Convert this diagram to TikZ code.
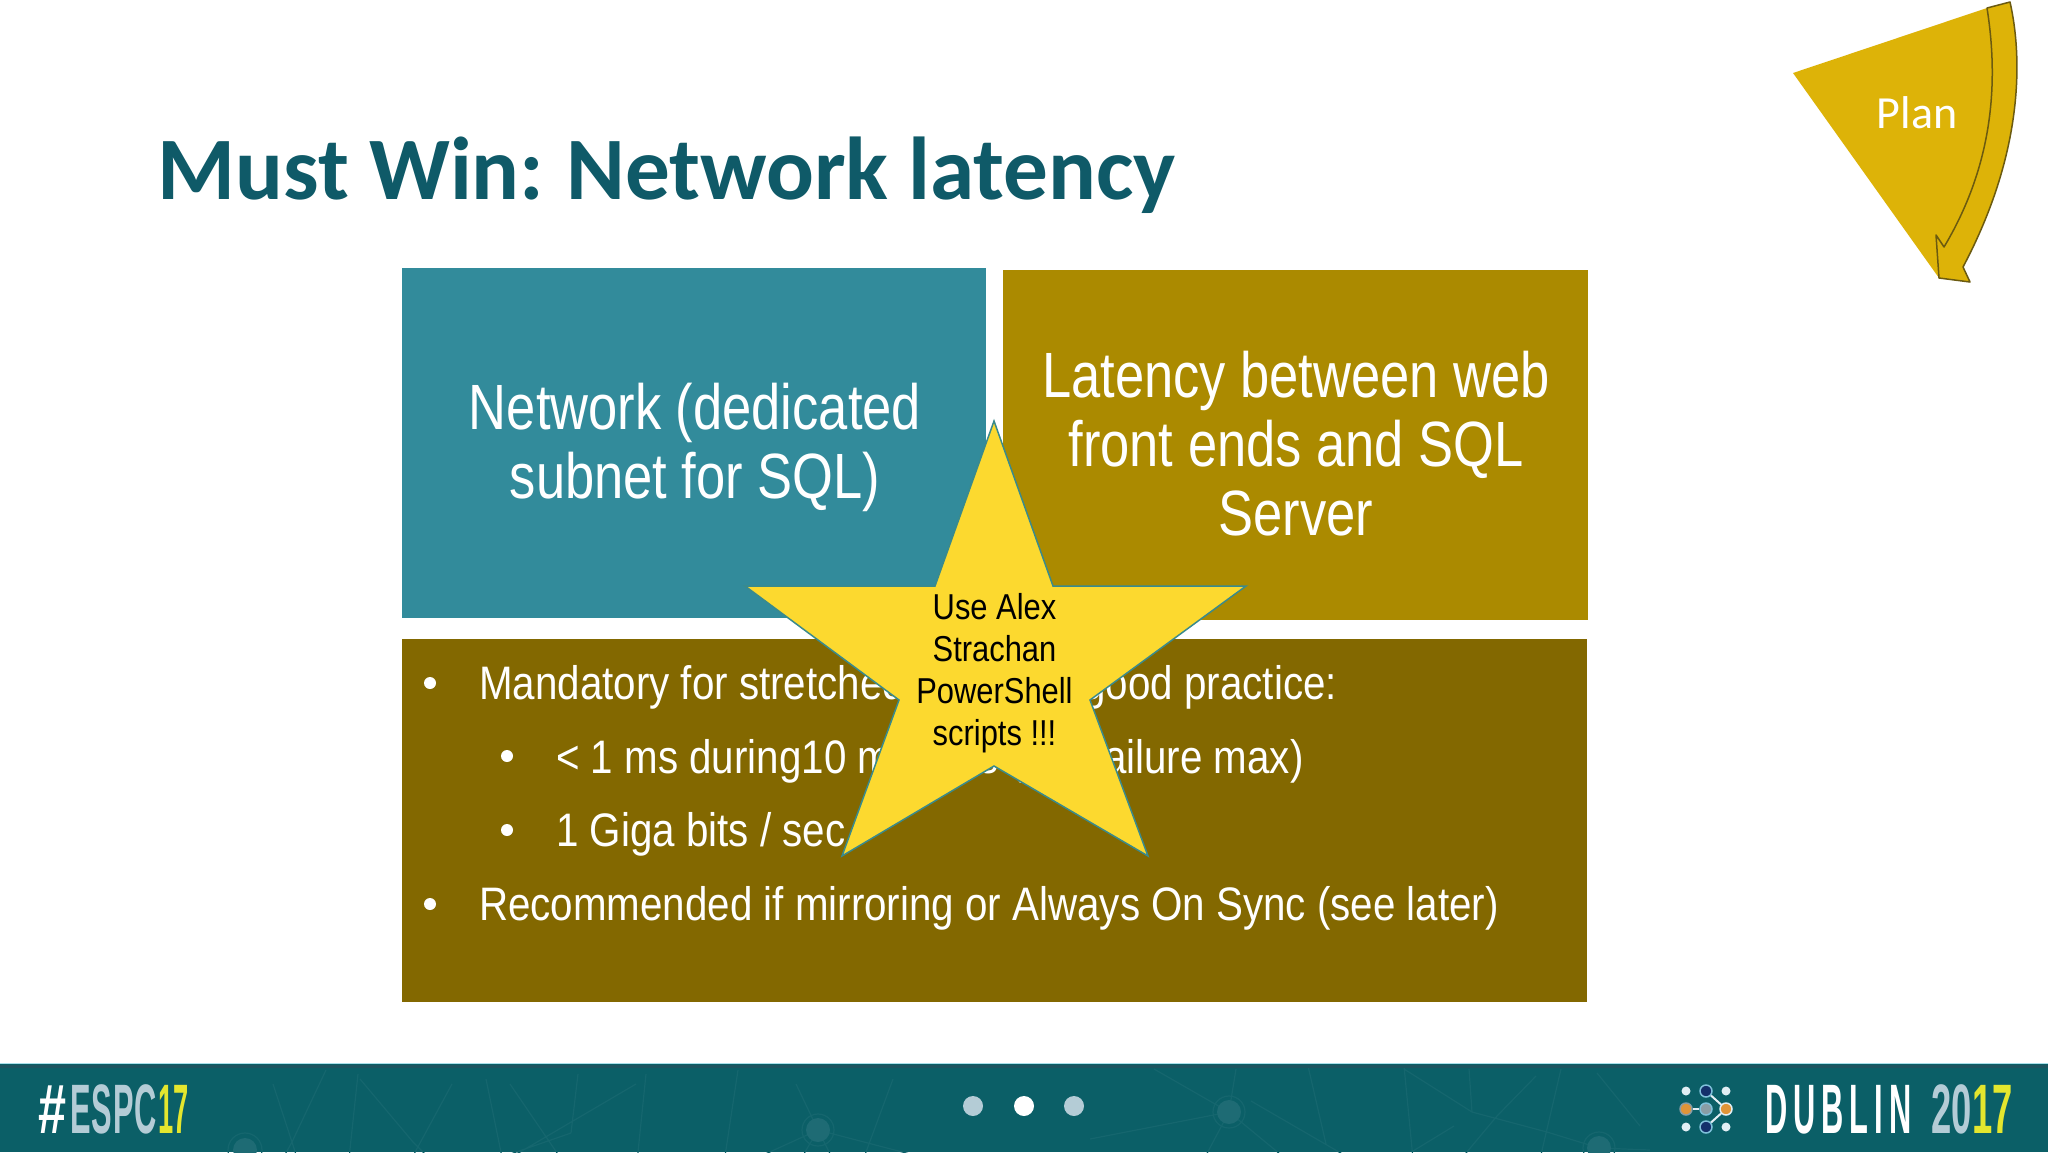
\documentclass[tikz,border=0pt]{standalone}
\usepackage{fontspec}
\setmainfont{Liberation Sans}
\newfontfamily\nar{Liberation Sans}[FakeStretch=0.858]
\newfontfamily\narb{Liberation Sans}[FakeStretch=0.82]
\newfontfamily\calb{Carlito}
\newfontfamily\con{Liberation Sans}[FakeStretch=0.44]
\newfontfamily\cond{Liberation Sans}[FakeStretch=0.39]
\newfontfamily\conh{Liberation Sans}[FakeStretch=0.72]
\newfontfamily\cony{Liberation Sans}[FakeStretch=0.52]
\definecolor{tealbox}{HTML}{328B9B}
\definecolor{goldbox}{HTML}{AB8A00}
\definecolor{brownbox}{HTML}{836800}
\definecolor{titlec}{HTML}{0F5A68}
\definecolor{foot}{HTML}{0B5F67}
\definecolor{footnet}{HTML}{15666E}
\definecolor{footdisc}{HTML}{1E6B74}
\definecolor{footedge}{HTML}{A8E0EA}
\definecolor{footdark}{HTML}{1D5560}
\definecolor{starc}{HTML}{FCD92F}
\definecolor{starline}{HTML}{3A8A8C}
\definecolor{plan}{HTML}{DDB308}
\definecolor{planline}{HTML}{6B5A10}
\definecolor{dotblue}{HTML}{B4CCD6}
\definecolor{lime}{HTML}{E4E62E}
\definecolor{navy}{HTML}{14306B}
\definecolor{ring}{HTML}{7FC0DA}
\definecolor{orng}{HTML}{E09438}
\definecolor{midg}{HTML}{8A9DA5}
\definecolor{lgw}{HTML}{E2EEF4}
\tikzset{
 box/.style={fill=#1,draw=none},
 boxtext/.style={text=white,font=\narb\fontsize{64}{69}\selectfont,align=center,inner sep=0pt},
 bullet/.style={text=white,font=\nar\fontsize{47}{47}\selectfont,anchor=base west,inner sep=0pt},
 bdot/.style={circle,fill=white,minimum size=12pt,inner sep=0pt},
 navdot/.style={circle,minimum size=20pt,inner sep=0pt,fill=dotblue},
 lg/.style={circle,minimum size=9pt,inner sep=0pt,fill=#1},
 lgr/.style={circle,minimum size=12pt,inner sep=0pt,fill=#1,draw=ring,line width=1.5pt},
 lgo/.style={circle,minimum size=12pt,inner sep=0pt,fill=orng,draw=#1,line width=1.5pt},
 lgl/.style={draw=lgw,line width=2pt},
 footer text/.style={anchor=base west,inner sep=0pt,font=\bfseries\fontsize{70}{70}\selectfont},
}
\begin{document}
\begin{tikzpicture}[x=1pt,y=-1pt]
\useasboundingbox (0,0) rectangle (2048,1152);
\fill[white] (0,0) rectangle (2048,1152);
% title
\node[anchor=base west,inner sep=0pt,text=titlec,font=\calb\bfseries\fontsize{89.2}{89}\selectfont] (title) at (157.5,199) {Must Win:\kern-5pt{} Network latency};
% boxes
\fill[box=tealbox] (402,268) rectangle (986,618);
\fill[box=goldbox] (1003,270) rectangle (1588,620);
\fill[box=brownbox] (402,639) rectangle (1587,1002);
\node[boxtext] (net) at (695,447) {Network (dedicated\\subnet for SQL)};
\node[boxtext] (lat) at (1296,444) {Latency between web\\front ends and SQL\\Server};
% bullets
\node[bdot] (b1) at (430,683) {};
\node[bullet] (t1) at (479,699.5) {Mandatory for stretched farm and\kern-3pt{} good practice:};
\node[bdot] (b2) at (507,756) {};
\node[bullet] (t2) at (556,773.5) {< 1 ms during10 minutes (1\% failure max)};
\node[bdot] (b3) at (507,830) {};
\node[bullet] (t3) at (556,846.5) {1 Giga bits / sec};
\node[bdot] (b4) at (430,904) {};
\node[bullet] (t4) at (479,920.5) {Recommended if mirroring or Always On Sync (see later)};
% star
\filldraw[fill=starc,draw=starline,line width=1.5pt,line join=miter]
 (994,421)--(1053,586)--(1246,586)--(1090,700)--(1148,856)--(994,766)--(842,856)--(899,700)--(745,586)--(935,586)--cycle;
\node[text=black,font=\nar\fontsize{36}{42}\selectfont,align=center,inner sep=0pt] (st) at (994.5,673) {Use Alex\\Strachan\\PowerShell\\scripts !!!};
% plan
\fill[plan] (1793,73)--(1987,8) .. controls (2000,90) and (1990,170) .. (1944,247)--(1939,278)--cycle;
\filldraw[fill=plan,draw=planline,line width=1.5pt,line join=round]
 (1987,8)--(2010,2) .. controls (2022,55) and (2025,150) .. (1963,267)
 --(1970,282)--(1939,278)--(1936,235)--(1944,247)
 .. controls (1990,170) and (2000,90) .. cycle;
\node[text=white,font=\calb\fontsize{46}{46}\selectfont,inner sep=0pt] (pl) at (1917,113) {Plan};
% footer
\fill[foot] (0,1064) rectangle (2048,1152);
\begin{scope}
\clip (0,1068) rectangle (2048,1152);
\draw[footnet,line width=1.2pt,line join=round]
 (273,1084)--(292,1142)--(309,1196) (326,1070)--(292,1142)--(273,1176)
 (358,1074)--(345,1196) (360,1079)--(413,1142)--(447,1176)
 (452,1084)--(394,1191) (486,1079)--(503,1162)--(500,1196)
 (510,1084)--(583,1191) (578,1074)--(571,1133) (636,1084)--(503,1162)
 (447,1176)--(571,1133) (646,1074)--(634,1191) (738,1070)--(719,1196)
 (818,1130)--(728,1171) (818,1130)--(956,1166) (818,1130)--(782,1191)
 (818,1130)--(796,1084) (818,1130)--(849,1191) (893,1079)--(859,1171)
 (1229,1112)--(1090,1139) (1229,1112)--(1154,1069) (1229,1112)--(1236,1069)
 (1229,1112)--(1286,1159) (1229,1112)--(1204,1159)
 (1308,1066)--(1326,1144) (1251,1101)--(1351,1159)
 (1404,1066)--(1413,1159) (1404,1069)--(1472,1112)--(1547,1132)--(1599,1148)
 (1469,1069)--(1472,1112) (1497,1116)--(1461,1159) (1536,1076)--(1497,1116)
 (1561,1069)--(1540,1159) (1413,1151)--(1454,1126) (1599,1148)--(1650,1150)
 (1597,1073)--(1640,1126);
\fill[footdisc] (245,1150) circle (12) (448,1179) circle (12) (818,1130) circle (12)
 (1229,1112) circle (12) (1599,1148) circle (12);
\draw[footnet,line width=1.2pt] (245,1150) circle (17) (448,1179) circle (16) (818,1130) circle (16)
 (1229,1112) circle (16) (1599,1148) circle (16);
\end{scope}
\draw[footedge,line width=1.5pt] (0,1063.5)--(2048,1063.5);
\draw[footdark,line width=3pt] (0,1066)--(2048,1066);
\node[footer text] (tag) at (38,1133) {\conh\textcolor{white}{\#}\hspace{4pt}\con\textcolor{dotblue}{E\kern1pt S\kern1pt P\kern1pt C}\hspace{1pt}\cond\textcolor{lime}{17}};
\node[footer text] (dub) at (1765,1133) {\con\textcolor{white}{D\kern6pt U\kern6pt B\kern6pt L\kern6pt I\kern6pt N}\hspace{20pt}\cony\textcolor{dotblue}{20}\textcolor{lime}{17}};
\node[navdot] (d1) at (973,1106) {};
\node[navdot,fill=white] (d2) at (1024,1106) {};
\node[navdot] (d3) at (1074,1106) {};
% logo
\node[lg=lgw] (a1) at (1686,1091) {};
\node[lgr=navy] (a2) at (1706,1091) {};
\node[lg=lgw] (a3) at (1726,1091) {};
\node[lgo=midg] (b1l) at (1686,1109) {};
\node[lgo=ring,fill=midg] (b2l) at (1706,1109) {};
\node[lgo=lgw] (b3l) at (1726,1109) {};
\node[lg=lgw] (c1) at (1686,1127) {};
\node[lgr=navy] (c2) at (1706,1127) {};
\node[lg=lgw] (c3) at (1726,1127) {};
\draw[lgl] (a2)--(b3l);
\draw[lgl] (c2)--(b3l);
\draw[lgl] (b1l)--(b2l);
\end{tikzpicture}
\end{document}
